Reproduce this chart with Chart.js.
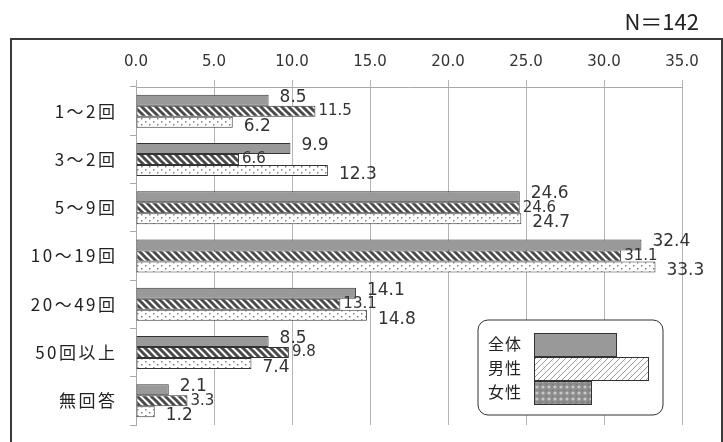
<!DOCTYPE html>
<html>
<head>
<meta charset="utf-8">
<script src="https://cdn.jsdelivr.net/npm/chart.js@4.4.1/dist/chart.umd.min.js"></script>
<style>
  html, body { margin: 0; padding: 0; background: #fff; }
  #wrap { width: 723px; height: 442px; }
</style>
</head>
<body>
<div id="wrap"><canvas id="chart" width="723" height="442"></canvas></div>
<script>
// données
const categories = ['1〜2回', '3〜2回', '5〜9回', '10〜19回', '20〜49回', '50回以上', '無回答'];
const seriesNames = ['全体', '男性', '女性'];
const allValues = [8.5, 9.9, 24.6, 32.4, 14.1, 8.5, 2.1];
const maleValues = [11.5, 6.6, 24.6, 31.1, 13.1, 9.8, 3.3];
const femaleValues = [6.2, 12.3, 24.7, 33.3, 14.8, 7.4, 1.2];
const xMin = 0;
const xMax = 35;
const xStep = 5;
const sampleLabel = 'N＝142';

// motifs de remplissage
function makePattern(w, h, draw) {
    const c = document.createElement('canvas');
    c.width = w;
    c.height = h;
    draw(c.getContext('2d'), w, h);
    return document.createElement('canvas').getContext('2d').createPattern(c, 'repeat');
}

const stripePattern = makePattern(7, 7, (g, w, h) => {
    g.fillStyle = '#fff';
    g.fillRect(0, 0, w, h);
    g.strokeStyle = '#4a4a4a';
    g.lineWidth = 3;
    [-w, 0, w].forEach(o => {
        g.beginPath();
        g.moveTo(o - 1, -1);
        g.lineTo(o + w + 1, h + 1);
        g.stroke();
    });
});

const dotPattern = makePattern(8, 6, (g, w, h) => {
    g.fillStyle = '#fff';
    g.fillRect(0, 0, w, h);
    g.fillStyle = '#808080';
    g.fillRect(1, 1, 1.5, 1.5);
    g.fillRect(5, 4, 1.5, 1.5);
});

const legendHatch = makePattern(6, 6, (g, w, h) => {
    g.fillStyle = '#fff';
    g.fillRect(0, 0, w, h);
    g.strokeStyle = '#999';
    g.lineWidth = 1;
    [-w, 0, w].forEach(o => {
        g.beginPath();
        g.moveTo(o - 1, h + 1);
        g.lineTo(o + w + 1, -1);
        g.stroke();
    });
});

const legendCross = makePattern(6, 6, (g, w, h) => {
    g.fillStyle = '#8c8c8c';
    g.fillRect(0, 0, w, h);
    g.fillStyle = '#c8c8c8';
    g.beginPath();
    g.arc(3, 3, 1.6, 0, Math.PI * 2);
    g.fill();
    g.fillStyle = '#6e6e6e';
    g.fillRect(0, 0, 1, 1);
});

// réglages des étiquettes de valeurs par série
const labelGap = [11, 3, 11];
const labelShift = [-3, 0, 4];
const labelFont = ['17px "DejaVu Sans"', '15px "DejaVu Sans"', '17px "DejaVu Sans"'];

const decorPlugin = {
    id: 'decor',
    beforeDraw(chart) {
        const ctx = chart.ctx;
        ctx.save();
        ctx.fillStyle = '#fff';
        ctx.fillRect(0, 0, chart.width, chart.height);
        ctx.strokeStyle = '#3a3a3a';
        ctx.lineWidth = 2;
        ctx.strokeRect(11, 39, 711, 430);
        ctx.fillStyle = '#222';
        ctx.font = '22px "Noto Sans CJK JP"';
        ctx.textAlign = 'right';
        ctx.textBaseline = 'middle';
        ctx.fillText(sampleLabel, 699, 22);
        ctx.restore();
    },
    afterDatasetsDraw(chart) {
        const ctx = chart.ctx;
        ctx.save();
        ctx.fillStyle = '#333';
        ctx.textAlign = 'left';
        ctx.textBaseline = 'middle';
        chart.data.datasets.forEach((ds, i) => {
            ctx.font = labelFont[i];
            chart.getDatasetMeta(i).data.forEach((bar, j) => {
                ctx.fillText(ds.data[j].toFixed(1), bar.x + labelGap[i], bar.y + labelShift[i]);
            });
        });
        ctx.restore();
    },
    afterDraw(chart) {
        const ctx = chart.ctx;
        const yScale = chart.scales.y;
        ctx.save();
        // libellés des catégories
        ctx.fillStyle = '#222';
        ctx.font = '17px "Noto Sans CJK JP"';
        ctx.letterSpacing = '2.5px';
        ctx.textAlign = 'right';
        ctx.textBaseline = 'middle';
        categories.forEach((c, i) => {
            ctx.fillText(c, 117.5, yScale.getPixelForTick(i));
        });
        ctx.letterSpacing = '0px';

        // légende
        const bx = 478, by = 320, bw = 185, bh = 95;
        ctx.beginPath();
        ctx.roundRect(bx, by, bw, bh, 10);
        ctx.fillStyle = '#fff';
        ctx.fill();
        ctx.strokeStyle = '#333';
        ctx.lineWidth = 1;
        ctx.stroke();

        const swatchFill = ['#999', legendHatch, legendCross];
        const swatchWidth = [82, 114, 57];
        ctx.font = '16px "Noto Sans CJK JP"';
        ctx.letterSpacing = '1px';
        ctx.textAlign = 'left';
        seriesNames.forEach((name, i) => {
            const sy = 333 + i * 24;
            ctx.fillStyle = swatchFill[i];
            ctx.fillRect(534, sy, swatchWidth[i], 23);
            ctx.strokeStyle = '#333';
            ctx.strokeRect(534.5, sy + 0.5, swatchWidth[i], 23);
            ctx.fillStyle = '#222';
            ctx.fillText(name, 488, sy + 11);
        });
        ctx.restore();
    }
};

const ctx = document.getElementById('chart').getContext('2d');
new Chart(ctx, {
    type: 'bar',
    data: {
        labels: categories,
        datasets: [
            { label: seriesNames[0], data: allValues, backgroundColor: '#999' },
            { label: seriesNames[1], data: maleValues, backgroundColor: stripePattern },
            { label: seriesNames[2], data: femaleValues, backgroundColor: dotPattern }
        ].map(d => Object.assign(d, {
            borderColor: '#333',
            borderWidth: 1,
            borderSkipped: false,
            barPercentage: 1,
            categoryPercentage: 0.683
        }))
    },
    options: {
        indexAxis: 'y',
        responsive: false,
        animation: false,
        layout: { padding: { top: 0, left: 0, right: 41, bottom: 17 } },
        plugins: {
            legend: { display: false },
            tooltip: { enabled: false }
        },
        scales: {
            x: {
                position: 'top',
                min: xMin,
                max: xMax,
                afterFit: s => { s.height = 87; },
                ticks: {
                    stepSize: xStep,
                    padding: 9,
                    color: '#333',
                    font: { family: 'DejaVu Sans', size: 15 },
                    callback: v => Number(v).toFixed(1)
                },
                grid: { color: '#b4b4b4', tickLength: 7 },
                border: { color: '#a8a8a8' }
            },
            y: {
                afterFit: s => { s.width = 136; },
                ticks: { display: false },
                grid: { drawOnChartArea: false, color: '#a8a8a8', tickLength: 6 },
                border: { color: '#a8a8a8' }
            }
        }
    },
    plugins: [decorPlugin]
});
</script>
</body>
</html>
